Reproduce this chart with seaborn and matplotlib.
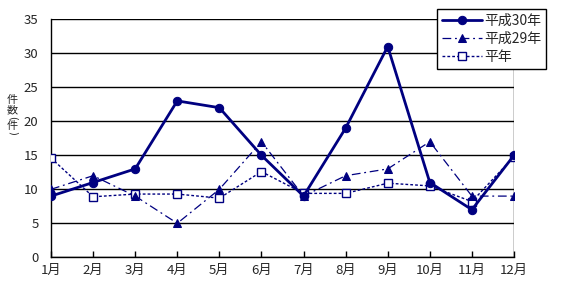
import matplotlib
matplotlib.use("Agg")
import matplotlib.pyplot as plt
import seaborn as sns
import pandas as pd

months = ["1月", "2月", "3月", "4月", "5月", "6月", "7月", "8月", "9月", "10月", "11月", "12月"]
h30 = [9, 11, 13, 23, 22, 15, 9, 19, 31, 11, 7, 15]
h29 = [10, 12, 9, 5, 10, 17, 9, 12, 13, 17, 9, 9]
normal = [14.6, 8.9, 9.3, 9.3, 8.7, 12.6, 9.4, 9.4, 10.9, 10.5, 8.2, 14.8]
series_names = ["平成30年", "平成29年", "平年"]

sns.set_theme(style="white")
plt.rcParams["font.family"] = ["Noto Sans CJK JP", "DejaVu Sans"]

navy = "#000080"
fig = plt.figure(figsize=(5.66, 2.97), dpi=100)
ax = fig.add_axes([51 / 566, 1 - 257.3 / 297, (514 - 51) / 566, (257.3 - 19.3) / 297])

x = list(range(1, 13))
df = pd.DataFrame({"x": x, "h30": h30, "h29": h29, "normal": normal})

sns.lineplot(data=df, x="x", y="normal", ax=ax, color=navy, lw=1.0,
             linestyle=(0, (2, 1.5)), marker="s", markersize=6.3,
             markerfacecolor="white", markeredgecolor=navy, markeredgewidth=1.0,
             label=series_names[2], zorder=3)
sns.lineplot(data=df, x="x", y="h29", ax=ax, color=navy, lw=0.9,
             linestyle=(0, (7, 3, 1.5, 3)), marker="^", markersize=6.3,
             markerfacecolor=navy, markeredgecolor=navy,
             label=series_names[1], zorder=4)
sns.lineplot(data=df, x="x", y="h30", ax=ax, color=navy, lw=2.0,
             linestyle="-", marker="o", markersize=6,
             markerfacecolor=navy, markeredgecolor=navy,
             label=series_names[0], zorder=5)

ax.set_xlim(1, 12)
ax.set_ylim(0, 35)
ax.set_xticks(x)
ax.set_xticklabels(months, fontsize=9.5)
ax.set_yticks(range(0, 36, 5))
ax.set_yticklabels([str(v) for v in range(0, 36, 5)], fontsize=9.5)
ax.yaxis.grid(True, color="black", lw=1.0)
ax.set_axisbelow(True)
for s in ["top", "right"]:
    ax.spines[s].set_visible(False)
for s in ["left", "bottom"]:
    ax.spines[s].set_color("black")
    ax.spines[s].set_linewidth(1.0)
ax.axvline(12, color="black", lw=1.0, zorder=1)
ax.tick_params(axis="x", direction="in", length=4, color="black", width=1, pad=5, bottom=True)
ax.tick_params(axis="y", length=0, pad=9)
ax.set_xlabel("")
ax.set_ylabel("")

handles, labels = ax.get_legend_handles_labels()
order = [labels.index(n) for n in series_names]
if ax.get_legend():
    ax.get_legend().remove()
leg = fig.legend([handles[i] for i in order], [labels[i] for i in order],
                 loc="upper left", bbox_to_anchor=(437 / 566, 1 - 9 / 297),
                 fontsize=10, frameon=True, fancybox=False, framealpha=1,
                 edgecolor="black", borderpad=0.35, labelspacing=0.3,
                 handlelength=2.9, handletextpad=0.15, borderaxespad=0)
leg.get_frame().set_linewidth(1.0)

# vertical axis title: 件数(件), stacked upright with rotated parentheses
xl = 12.5 / 566
for ch, rot, ypix, fs in [("件", 0, 100, 8), ("数", 0, 110.5, 8), ("(", -90, 118, 7),
                          ("件", 0, 125.5, 8), (")", -90, 133, 7)]:
    fam = ["DejaVu Sans"] if ch in "()" else ["Noto Sans CJK JP", "DejaVu Sans"]
    fig.text(xl, 1 - ypix / 297, ch, fontsize=fs, ha="center", va="center",
             rotation=rot, family=fam)

fig.savefig("out.png", dpi=100)
